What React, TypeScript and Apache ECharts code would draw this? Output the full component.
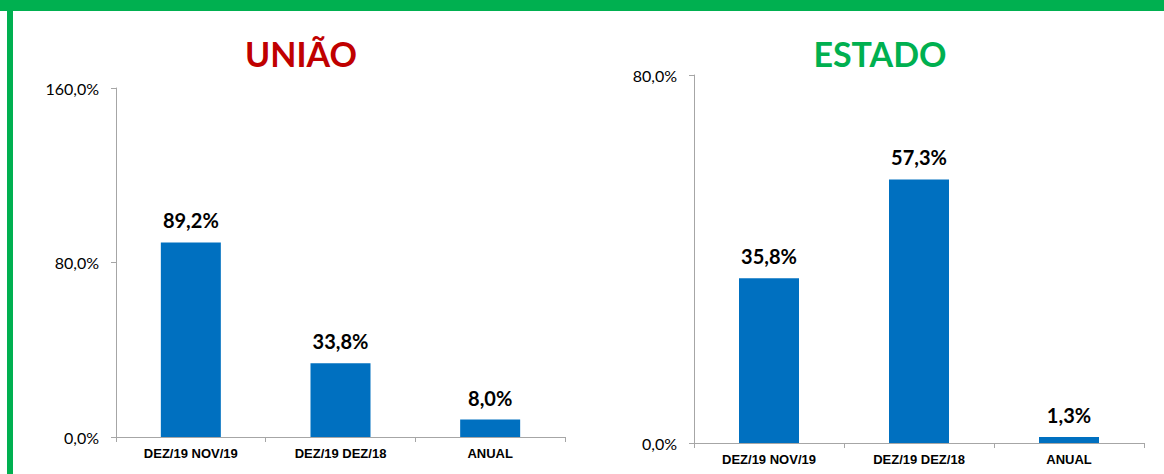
import React, { useEffect, useRef } from "react";
import * as echarts from "echarts";

const categories = ["DEZ/19 NOV/19", "DEZ/19 DEZ/18", "ANUAL"];
const uniaoValues = [89.2, 33.8, 8.0];
const estadoValues = [35.8, 57.3, 1.3];
const uniaoTitle = "UNIÃO";
const estadoTitle = "ESTADO";

const fmt = (v: number) => v.toFixed(1).replace(".", ",") + "%";

export default function App() {
  const ref = useRef<HTMLDivElement>(null);
  useEffect(() => {
    document.body.style.margin = "0";
    const chart = echarts.init(ref.current!, null, { renderer: "svg" });
    const axisLine = { lineStyle: { color: "#A6A6A6", width: 1 } };
    const yAxisCommon = {
      type: "value" as const,
      interval: 80,
      min: 0,
      splitLine: { show: false },
      axisLine: { show: true, ...axisLine },
      axisTick: { show: true, length: 5, ...axisLine },
      axisLabel: {
        formatter: (v: number) => fmt(v),
        fontFamily: "Lato",
        fontSize: 16,
        color: "#000",
        margin: 17,
      },
    };
    const xAxisCommon = {
      type: "category" as const,
      data: categories,
      axisLine: axisLine,
      axisTick: { show: true, length: 5, ...axisLine },
      axisLabel: {
        fontFamily: "Liberation Sans",
        fontWeight: "bold" as const,
        fontSize: 13,
        color: "#000",
        margin: 10,
      },
    };
    const barLabel = {
      show: true,
      position: "top" as const,
      distance: 12,
      formatter: (p: any) => fmt(p.value),
      fontFamily: "Lato",
      fontWeight: "bold" as const,
      fontSize: 20,
      color: "#000",
    };
    chart.setOption({
      animation: false,
      backgroundColor: "#fff",
      graphic: [
        { type: "rect", shape: { x: 0, y: 0, width: 1164, height: 11 }, style: { fill: "#00B050" } },
        { type: "rect", shape: { x: 7, y: 0, width: 6, height: 474 }, style: { fill: "#00B050" } },
        {
          type: "text",
          x: 301,
          y: 53,
          style: {
            text: uniaoTitle,
            fill: "#C00000",
            font: "bold 34px Lato",
            align: "center",
            verticalAlign: "middle",
          },
        },
        {
          type: "text",
          x: 880,
          y: 53,
          style: {
            text: estadoTitle,
            fill: "#00B050",
            font: "bold 34px Lato",
            align: "center",
            verticalAlign: "middle",
          },
        },
      ],
      grid: [
        { left: 116, top: 88, width: 449, height: 349 },
        { left: 694, top: 75, width: 450, height: 368 },
      ],
      xAxis: [
        { ...xAxisCommon, gridIndex: 0 },
        { ...xAxisCommon, gridIndex: 1 },
      ],
      yAxis: [
        { ...yAxisCommon, gridIndex: 0, max: 160 },
        { ...yAxisCommon, gridIndex: 1, max: 80 },
      ],
      series: [
        {
          type: "bar",
          xAxisIndex: 0,
          yAxisIndex: 0,
          data: uniaoValues,
          barWidth: 60,
          itemStyle: { color: "#0070C0" },
          label: barLabel,
        },
        {
          type: "bar",
          xAxisIndex: 1,
          yAxisIndex: 1,
          data: estadoValues,
          barWidth: 60,
          itemStyle: { color: "#0070C0" },
          label: barLabel,
        },
      ],
    });
    return () => chart.dispose();
  }, []);
  return <div ref={ref} style={{ width: 1164, height: 474 }} />;
}
